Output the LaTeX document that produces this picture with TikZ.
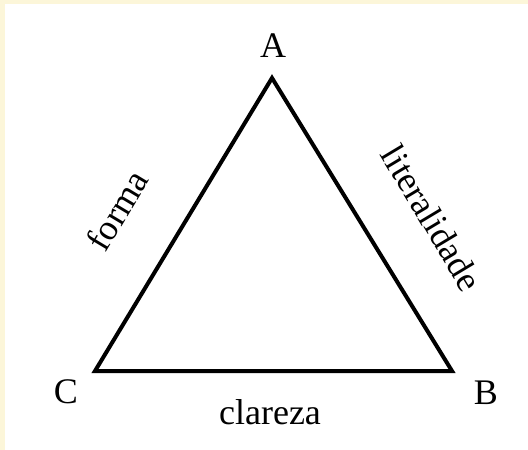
\documentclass[tikz,border=0pt]{standalone}
\usepackage{fontspec}
\setmainfont{Liberation Serif}
\definecolor{bgyellow}{HTML}{FCF6D9}
\begin{document}
\begin{tikzpicture}[x=1pt,y=-1pt,
  lbl/.style={inner sep=0pt,font=\fontsize{36}{42}\selectfont},
  side/.style={line width=4pt,line join=miter}]
\useasboundingbox (0,0) rectangle (528,450);
\fill[bgyellow] (0,0) rectangle (528,450);
\fill[white] (5,4) rectangle (528,450);
\coordinate (A) at (272,78);
\coordinate (B) at (452,371);
\coordinate (C) at (95,371);
\draw[side] (A) -- (B) -- (C) -- cycle;
\node[lbl] (la) at (273,46) {A};
\node[lbl] (lb) at (486,393) {B};
\node[lbl] (lc) at (66,392) {C};
\node[lbl,anchor=base] (lclareza) at (270,424) {clareza};
\node[lbl,rotate=59] (lforma) at (117,210) {forma};
\node[lbl,rotate=-59] (llit) at (432,218) {literalidade};
\end{tikzpicture}
\end{document}
